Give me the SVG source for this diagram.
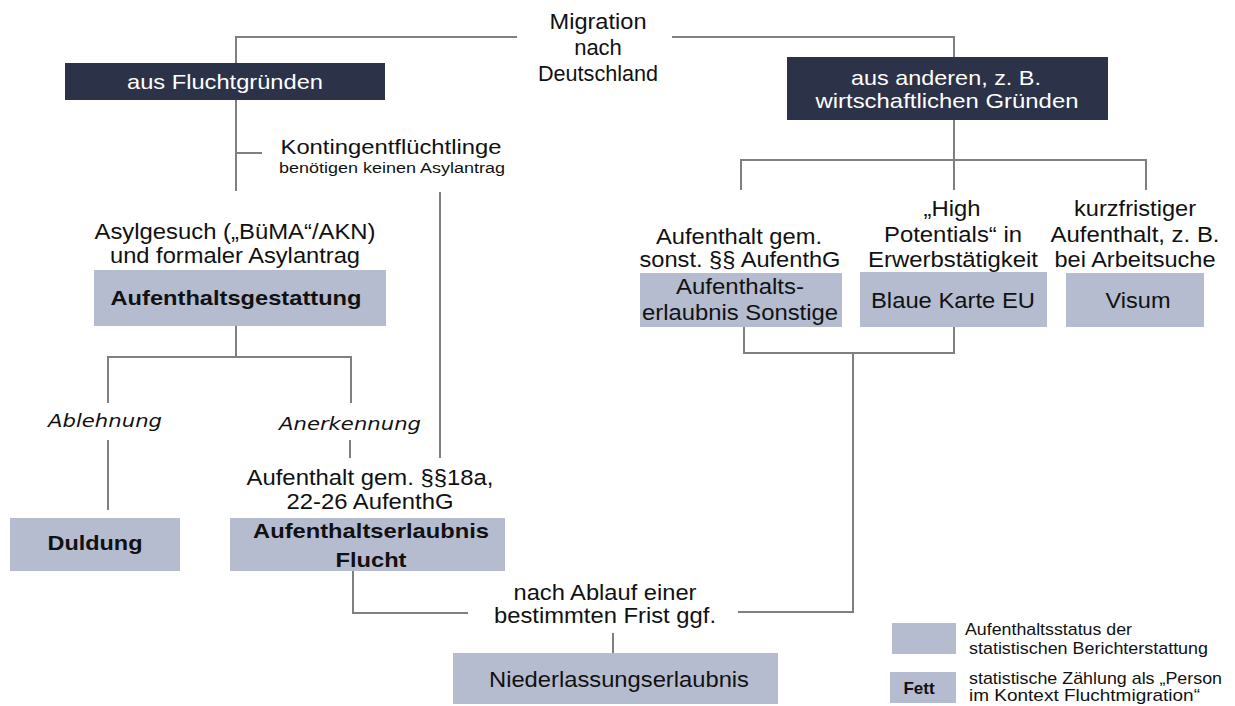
<svg xmlns="http://www.w3.org/2000/svg" width="1235" height="706" viewBox="0 0 1235 706">
<style>
text{font-family:"Liberation Sans",Arial,sans-serif;fill:#111;}
.t{font-size:22px;text-anchor:middle;}
.w{font-size:21px;text-anchor:middle;fill:#fff;}
.b{font-size:21px;text-anchor:middle;font-weight:bold;}
.s{font-size:14px;text-anchor:middle;}
.i{font-family:"DejaVu Sans",sans-serif;font-size:18px;font-style:italic;text-anchor:middle;}
.l{font-size:17px;}
.dark{fill:#2c3348;}
.light{fill:#b5bccf;}
.c{fill:none;stroke:#808080;stroke-width:2;}
</style>
<rect width="1235" height="706" fill="#fff"/>
<g id="connectors" class="c">
<polyline points="517,37 236,37 236,191"/>
<line x1="236" y1="153" x2="262" y2="153"/>
<polyline points="672,37 954,37 954,57"/>
<line x1="954" y1="120" x2="954" y2="160"/>
<polyline points="741,190 741,160 1146,160 1146,190"/>
<line x1="954" y1="160" x2="954" y2="190"/>
<line x1="440" y1="192" x2="440" y2="458"/>
<line x1="236" y1="326" x2="236" y2="357"/>
<polyline points="108,403 108,357 351,357 351,403"/>
<line x1="108" y1="440" x2="108" y2="510"/>
<line x1="350" y1="440" x2="350" y2="458"/>
<polyline points="353,571 353,613 468,613"/>
<polyline points="744,327 744,353 954,353 954,327"/>
<polyline points="853,353 853,612 738,612"/>
<line x1="613" y1="633" x2="613" y2="653"/>
</g>
<g id="migration">
<text class="t" x="598" y="29" textLength="97" lengthAdjust="spacingAndGlyphs">Migration</text>
<text class="t" x="598" y="55">nach</text>
<text class="t" x="598" y="81" textLength="120" lengthAdjust="spacingAndGlyphs">Deutschland</text>
</g>
<g id="flucht">
<rect class="dark" x="65" y="63" width="320" height="37"/>
<text class="w" x="225" y="89" textLength="196" lengthAdjust="spacingAndGlyphs">aus Fluchtgründen</text>
</g>
<g id="andere">
<rect class="dark" x="787" y="57" width="321" height="63"/>
<text class="w" x="946" y="85" textLength="190" lengthAdjust="spacingAndGlyphs">aus anderen, z. B.</text>
<text class="w" x="947" y="108" textLength="263" lengthAdjust="spacingAndGlyphs">wirtschaftlichen Gründen</text>
</g>
<g id="kontingent">
<text class="t" x="391" y="154" style="font-size:21px" textLength="221" lengthAdjust="spacingAndGlyphs">Kontingentflüchtlinge</text>
<text class="s" x="392" y="173" textLength="226" lengthAdjust="spacingAndGlyphs">benötigen keinen Asylantrag</text>
</g>
<g id="gestattung">
<text class="t" x="235" y="239" textLength="281" lengthAdjust="spacingAndGlyphs">Asylgesuch („BüMA“/AKN)</text>
<text class="t" x="235" y="263" textLength="250" lengthAdjust="spacingAndGlyphs">und formaler Asylantrag</text>
<rect class="light" x="94" y="270" width="292" height="56"/>
<text class="b" x="236" y="305" textLength="251" lengthAdjust="spacingAndGlyphs">Aufenthaltsgestattung</text>
</g>
<g id="ablehnung">
<text class="i" x="105" y="427" textLength="114" lengthAdjust="spacingAndGlyphs">Ablehnung</text>
</g>
<g id="anerkennung">
<text class="i" x="350" y="430" textLength="142" lengthAdjust="spacingAndGlyphs">Anerkennung</text>
</g>
<g id="duldung">
<rect class="light" x="10" y="518" width="170" height="53"/>
<text class="b" x="95" y="550" textLength="95" lengthAdjust="spacingAndGlyphs">Duldung</text>
</g>
<g id="erlaubnis-flucht">
<text class="t" x="370" y="485" textLength="247" lengthAdjust="spacingAndGlyphs">Aufenthalt gem. §§18a,</text>
<text class="t" x="370" y="509" textLength="167" lengthAdjust="spacingAndGlyphs">22-26 AufenthG</text>
<rect class="light" x="230" y="518" width="275" height="53"/>
<text class="b" x="371" y="538" textLength="236" lengthAdjust="spacingAndGlyphs">Aufenthaltserlaubnis</text>
<text class="b" x="371" y="567" textLength="71" lengthAdjust="spacingAndGlyphs">Flucht</text>
</g>
<g id="sonstige">
<text class="t" x="739" y="244" textLength="166" lengthAdjust="spacingAndGlyphs">Aufenthalt gem.</text>
<text class="t" x="740" y="267" textLength="201" lengthAdjust="spacingAndGlyphs">sonst. §§ AufenthG</text>
<rect class="light" x="640" y="273" width="202" height="54"/>
<text class="t" x="740" y="294" textLength="128" lengthAdjust="spacingAndGlyphs">Aufenthalts-</text>
<text class="t" x="740" y="320" textLength="196" lengthAdjust="spacingAndGlyphs">erlaubnis Sonstige</text>
</g>
<g id="blaue-karte">
<text class="t" x="952" y="216" textLength="57" lengthAdjust="spacingAndGlyphs">„High</text>
<text class="t" x="953" y="242" textLength="138" lengthAdjust="spacingAndGlyphs">Potentials“ in</text>
<text class="t" x="953" y="267" textLength="170" lengthAdjust="spacingAndGlyphs">Erwerbstätigkeit</text>
<rect class="light" x="860" y="272" width="187" height="55"/>
<text class="t" x="953" y="308" textLength="164" lengthAdjust="spacingAndGlyphs">Blaue Karte EU</text>
</g>
<g id="visum">
<text class="t" x="1135" y="216" textLength="122" lengthAdjust="spacingAndGlyphs">kurzfristiger</text>
<text class="t" x="1135" y="242" textLength="169" lengthAdjust="spacingAndGlyphs">Aufenthalt, z. B.</text>
<text class="t" x="1135" y="267" textLength="161" lengthAdjust="spacingAndGlyphs">bei Arbeitsuche</text>
<rect class="light" x="1066" y="273" width="138" height="54"/>
<text class="t" x="1138" y="308" textLength="65" lengthAdjust="spacingAndGlyphs">Visum</text>
</g>
<g id="niederlassung">
<text class="t" x="605" y="600" textLength="183" lengthAdjust="spacingAndGlyphs">nach Ablauf einer</text>
<text class="t" x="605" y="623" textLength="222" lengthAdjust="spacingAndGlyphs">bestimmten Frist ggf.</text>
<rect class="light" x="453" y="653" width="325" height="51"/>
<text class="t" x="619" y="687" textLength="260" lengthAdjust="spacingAndGlyphs">Niederlassungserlaubnis</text>
</g>
<g id="legend">
<rect class="light" x="892" y="623" width="64" height="31"/>
<text class="l" x="965" y="635" textLength="167" lengthAdjust="spacingAndGlyphs">Aufenthaltsstatus der</text>
<text class="l" x="969" y="654" textLength="239" lengthAdjust="spacingAndGlyphs">statistischen Berichterstattung</text>
<rect class="light" x="890" y="672" width="66" height="31"/>
<text class="l" x="919" y="694" style="font-weight:bold;text-anchor:middle">Fett</text>
<text class="l" x="969" y="684" textLength="253" lengthAdjust="spacingAndGlyphs">statistische Zählung als „Person</text>
<text class="l" x="969" y="701" textLength="231" lengthAdjust="spacingAndGlyphs">im Kontext Fluchtmigration“</text>
</g>
</svg>
